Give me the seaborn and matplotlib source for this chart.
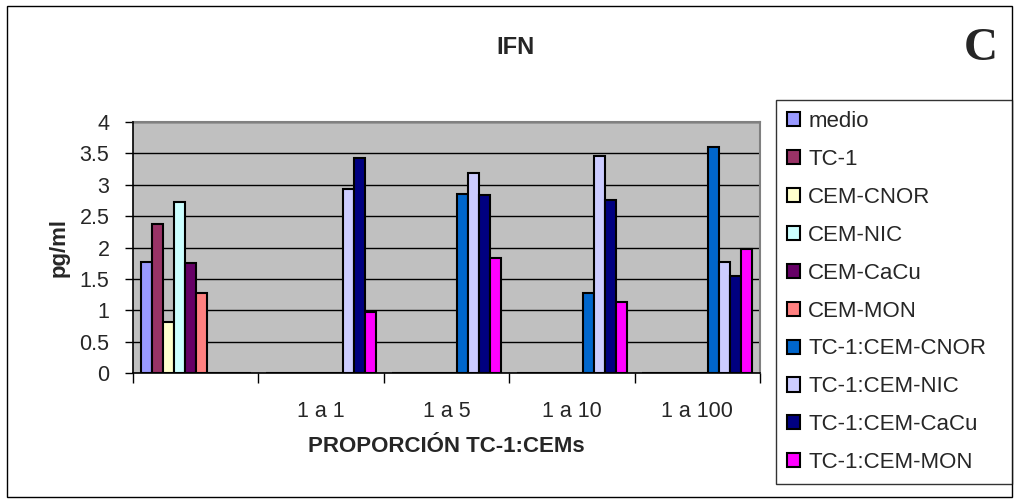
import numpy as np
import pandas as pd
import matplotlib
matplotlib.use("Agg")
import matplotlib.pyplot as plt
from matplotlib.patches import Rectangle
from matplotlib.ticker import FixedLocator
import seaborn as sns

# ---- data ----
categories = ["", "1 a 1", "1 a 5", "1 a 10", "1 a 100"]
series = ["medio", "TC-1", "CEM-CNOR", "CEM-NIC", "CEM-CaCu", "CEM-MON",
          "TC-1:CEM-CNOR", "TC-1:CEM-NIC", "TC-1:CEM-CaCu", "TC-1:CEM-MON"]
medio = [1.77, 0, 0, 0, 0]
tc1 = [2.37, 0, 0, 0, 0]
cem_cnor = [0.81, 0, 0, 0, 0]
cem_nic = [2.72, 0, 0, 0, 0]
cem_cacu = [1.75, 0, 0, 0, 0]
cem_mon = [1.28, 0, 0, 0, 0]
tc1_cem_cnor = [0, 0, 2.86, 1.28, 3.60]
tc1_cem_nic = [0, 2.94, 3.18, 3.46, 1.77]
tc1_cem_cacu = [0, 3.43, 2.83, 2.76, 1.55]
tc1_cem_mon = [0, 0.98, 1.84, 1.13, 1.97]
colors = ["#9999FF", "#993366", "#FFFFCC", "#CCFFFF", "#660066", "#FF8080",
          "#0066CC", "#CCCCFF", "#000080", "#FF00FF"]
yticks = [0, 0.5, 1, 1.5, 2, 2.5, 3, 3.5, 4]

values = [medio, tc1, cem_cnor, cem_nic, cem_cacu, cem_mon,
          tc1_cem_cnor, tc1_cem_nic, tc1_cem_cacu, tc1_cem_mon]
rows = []
for s, vals in zip(series, values):
    for c, v in zip(categories, vals):
        rows.append({"cat": c, "val": v, "serie": s})
df = pd.DataFrame(rows)

sns.set_style("white")
plt.rcParams["font.family"] = ["Liberation Sans", "DejaVu Sans"]

W, H = 1015, 500
fig = plt.figure(figsize=(W / 100, H / 100), dpi=100)
fig.patch.set_facecolor("white")

ax = fig.add_axes([133 / W, 1 - 373 / H, 627 / W, 251 / H])
sns.barplot(data=df, x="cat", y="val", hue="serie", order=categories,
            hue_order=series, palette=colors, width=0.877, gap=0,
            edgecolor="black", linewidth=1.5, saturation=1,
            errorbar=None, ax=ax)

ax.set_facecolor("#C0C0C0")
ax.set_xlim(-0.5, 4.5)
ax.set_ylim(0, 4)
ax.set_axisbelow(True)
ax.yaxis.grid(True, color="black", lw=1)
ax.xaxis.grid(False)

ax.set_yticks(yticks)
ax.set_yticklabels([f"{t:g}" for t in yticks])
ax.tick_params(axis="y", direction="out", length=6, width=1, color="black",
               labelsize=15.5, pad=11, left=True)
ax.set_xticks(range(len(categories)))
ax.set_xticklabels(categories)
ax.tick_params(axis="x", which="major", length=0, labelsize=15.5, pad=20)
ax.xaxis.set_minor_locator(FixedLocator(np.arange(-0.5, 4.6, 1)))
ax.tick_params(axis="x", which="minor", direction="out", length=7, width=1,
               color="black", bottom=True)

for side in ["left", "bottom"]:
    ax.spines[side].set_color("black")
    ax.spines[side].set_linewidth(1.2)
    ax.spines[side].set_zorder(5)
for side in ["top", "right"]:
    ax.spines[side].set_color("#808080")
    ax.spines[side].set_linewidth(1.5)

ax.set_xlabel("PROPORCIÓN TC-1:CEMs", fontsize=16, fontweight="bold")
ax.xaxis.set_label_coords(0.5, (373 - 436) / 251)
ax.set_ylabel("pg/ml", fontsize=16, fontweight="bold")
ax.yaxis.set_label_coords((70 - 133) / 627, 0.5)

handles, labels = ax.get_legend_handles_labels()
ax.get_legend().remove()
leg = fig.legend(handles, labels, loc="upper left",
                 bbox_to_anchor=(776 / W, 1 - 100 / H, (1012 - 776) / W, 0),
                 mode="expand", fontsize=16, frameon=True, fancybox=False,
                 edgecolor="black", handlelength=0.6, handleheight=0.6,
                 handletextpad=0.35, labelspacing=0.76, borderpad=0.5,
                 borderaxespad=0)
leg.get_frame().set_linewidth(1)

fig.text(515 / W, 1 - 48 / H, "IFN", ha="center", va="center",
         fontsize=17, fontweight="bold")
fig.text(981 / W, 1 - 49 / H, "C", ha="center", va="center",
         fontsize=34, fontweight="bold", family="Liberation Serif")

fig.patches.append(Rectangle((7 / W, 3 / H), (1012 - 7) / W, (494 - 3) / H,
                             transform=fig.transFigure, fill=False,
                             edgecolor="black", lw=1))

fig.savefig("out.png", dpi=100)
